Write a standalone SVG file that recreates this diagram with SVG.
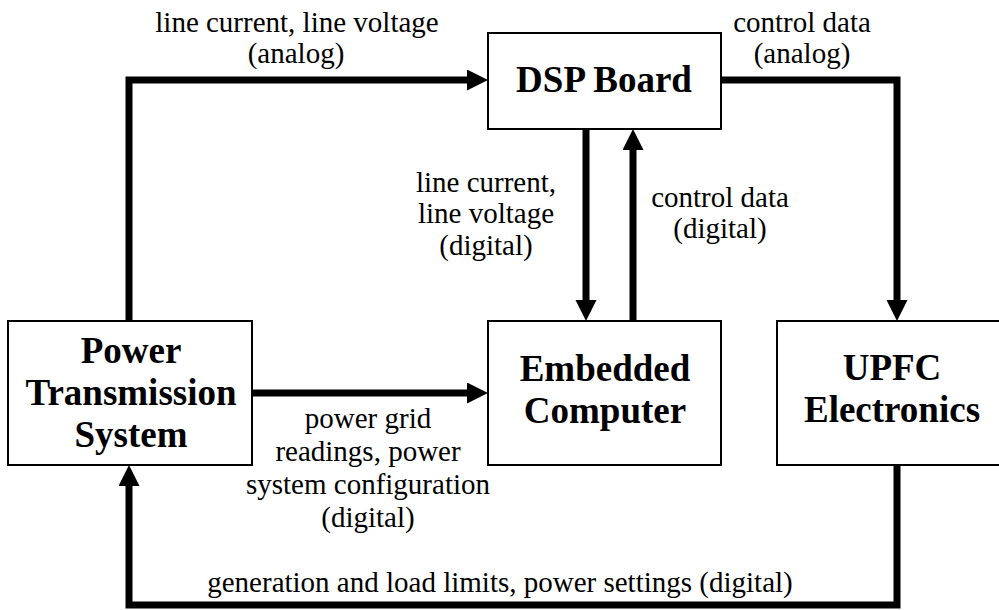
<svg xmlns="http://www.w3.org/2000/svg" width="999" height="610" viewBox="0 0 999 610">
<defs>
<marker id="ah" markerUnits="userSpaceOnUse" markerWidth="22" markerHeight="22" refX="0" refY="10.5" orient="auto">
<path d="M0,0 L21,10.5 L0,21 Z" fill="#000"/>
</marker>
<style>
.box{fill:#fff;stroke:#000;stroke-width:2}
.nt{font-family:"Liberation Serif","Times New Roman",serif;font-weight:bold;font-size:37px;text-anchor:middle;fill:#000}
.lb{font-family:"Liberation Serif","Times New Roman",serif;font-size:29px;text-anchor:middle;fill:#000}
.cn{fill:none;stroke:#000;stroke-width:7;stroke-linejoin:miter}
</style>
</defs>
<rect width="999" height="610" fill="#fff"/>
<g id="connectors">
<path class="cn" d="M129,321 V80 H467" marker-end="url(#ah)"/>
<path class="cn" d="M721,80 H897 V300" marker-end="url(#ah)"/>
<path class="cn" d="M586,129 V300" marker-end="url(#ah)"/>
<path class="cn" d="M633,321 V150" marker-end="url(#ah)"/>
<path class="cn" d="M252,393 H467" marker-end="url(#ah)"/>
<path class="cn" d="M897,464 V605 H129 V486" marker-end="url(#ah)"/>
</g>
<g id="dsp">
<rect class="box" x="488" y="33" width="233" height="96"/>
<text class="nt" x="604" y="92">DSP Board</text>
</g>
<g id="pts">
<rect class="box" x="8" y="321" width="244" height="144"/>
<text class="nt" x="131" y="363">Power</text>
<text class="nt" x="131" y="405">Transmission</text>
<text class="nt" x="131" y="447">System</text>
</g>
<g id="emb">
<rect class="box" x="488" y="321" width="233" height="144"/>
<text class="nt" x="605" y="381">Embedded</text>
<text class="nt" x="605" y="423">Computer</text>
</g>
<g id="upfc">
<rect class="box" x="777" y="321" width="230" height="144"/>
<text class="nt" x="892" y="380">UPFC</text>
<text class="nt" x="892" y="422">Electronics</text>
</g>
<g id="labels">
<text class="lb" x="297" y="32">line current, line voltage</text>
<text class="lb" x="296" y="63">(analog)</text>
<text class="lb" x="802" y="32">control data</text>
<text class="lb" x="802" y="63">(analog)</text>
<text class="lb" x="486" y="192">line current,</text>
<text class="lb" x="486" y="223">line voltage</text>
<text class="lb" x="486" y="255">(digital)</text>
<text class="lb" x="720" y="207">control data</text>
<text class="lb" x="720" y="238">(digital)</text>
<text class="lb" x="368" y="428">power grid</text>
<text class="lb" x="368" y="461">readings, power</text>
<text class="lb" x="368" y="494">system configuration</text>
<text class="lb" x="368" y="527">(digital)</text>
<text class="lb" x="500" y="592">generation and load limits, power settings (digital)</text>
</g>
</svg>
